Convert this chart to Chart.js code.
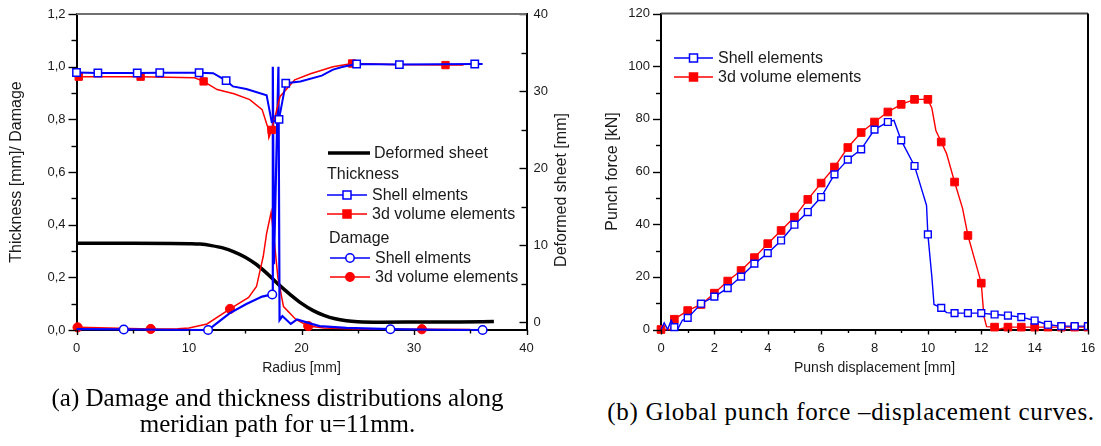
<!DOCTYPE html>
<html>
<head>
<meta charset="utf-8">
<script src="https://cdn.jsdelivr.net/npm/chart.js@4.4.0/dist/chart.umd.min.js"></script>
<style>
  html, body { margin: 0; padding: 0; background: #fff; }
  body { width: 1101px; height: 446px; position: relative; overflow: hidden; }
  .box { position: absolute; top: 0; height: 385px; }
  #boxA { left: 0; width: 580px; }
  #boxB { left: 580px; width: 521px; }
  .cap {
    position: absolute; color: #000; text-align: center; white-space: nowrap;
    font-family: "Liberation Serif", "Times New Roman", serif; font-size: 25px; line-height: 26px;
  }
  #capA { left: 0; top: 385px; width: 555px; }
  #capB { left: 591px; top: 399px; width: 520px; letter-spacing: 0.7px; }
</style>
</head>
<body>
<div class="box" id="boxA"><canvas id="chartA"></canvas></div>
<div class="box" id="boxB"><canvas id="chartB"></canvas></div>
<div class="cap" id="capA">(a) Damage and thickness distributions along<br>meridian path for u=11mm.</div>
<div class="cap" id="capB">(b) Global punch force –displacement curves.</div>
<script>
// ---- (a) distributions along the meridian, radius in mm ----
const thickShellR = [0, 1.9, 5.4, 7.4, 10.9, 12.15, 13.3, 13.9, 15.1, 16.9, 17.35, 18.0, 18.6, 19.9, 21.8, 22.8, 23.7, 24.9, 28.7, 35.4, 36.1];
const thickShell  = [0.978, 0.976, 0.976, 0.977, 0.977, 0.975, 0.947, 0.925, 0.915, 0.891, 0.79, 0.80, 0.937, 0.944, 0.966, 0.989, 1.0, 1.01, 1.008, 1.01, 1.01];

const thickVolR = [0.2, 5.7, 10.5, 11.3, 12.5, 14.0, 15.4, 16.5, 17.0, 17.1, 17.35, 18.1, 19.4, 20.8, 22.8, 24.5, 28.0, 32.8, 34.4];
const thickVol  = [0.962, 0.962, 0.958, 0.944, 0.913, 0.897, 0.875, 0.837, 0.77, 0.73, 0.76, 0.887, 0.95, 0.973, 1.0, 1.012, 1.008, 1.006, 1.006];

const dmgShellR = [0, 4.2, 8, 11.7, 12.6, 13.6, 15.1, 16.5, 17.4, 17.45, 17.55, 17.95, 18.05, 18.3, 19.05, 19.6, 20.75, 21.6, 24, 27.9, 32, 36.1];
const dmgShell  = [0.003, 0.002, 0.001, 0.0, 0.03, 0.063, 0.099, 0.127, 0.135, 1.0, 0.25, 1.0, 0.038, 0.053, 0.023, 0.04, 0.025, 0.015, 0.008, 0.003, 0.001, 0.0];

const dmgVolR = [0.1, 6.6, 9, 10, 11.6, 13.65, 15.3, 16.0, 16.6, 16.9, 17.3, 17.6, 17.9, 18.4, 19.5, 20.6, 22, 25, 30.7, 35];
const dmgVol  = [0.01, 0.004, 0.005, 0.008, 0.023, 0.08, 0.124, 0.165, 0.28, 0.367, 0.447, 0.33, 0.2, 0.089, 0.04, 0.015, 0.008, 0.004, 0.003, 0.002];

const sheetR = [0, 5, 10, 11, 12, 13, 14, 15, 16, 17, 18, 19, 20, 21, 22, 23, 24, 25, 27, 30, 34, 37.1];
const sheet  = [10.25, 10.25, 10.2, 10.15, 9.95, 9.65, 9.15, 8.45, 7.5, 6.25, 4.85, 3.6, 2.45, 1.55, 0.9, 0.45, 0.2, 0.08, 0.02, 0.03, 0.05, 0.1];

// which points carry a symbol (Origin skip factor)
const thickShellMarks = [0, 1, 2, 3, 4, 6, 11, 12, 17, 18, 19];
const thickVolMarks = [0, 1, 3, 10, 15, 17];
const dmgShellMarks = [1, 3, 8, 19, 21];
const dmgVolMarks = [0, 1, 5, 15, 18];

// ---- (b) punch force vs displacement ----
const shellDisp  = [0, 0.12, 0.25, 0.38, 0.5, 0.62, 0.8, 1.0, 1.5, 2.0, 2.5, 3.0, 3.5, 4.0, 4.5, 5.0, 5.5, 6.0, 6.5, 7.0, 7.5, 8.0, 8.5, 8.73, 9.0, 9.5, 9.64, 9.95, 10.0, 10.15, 10.23, 10.5, 10.7, 11.0, 11.5, 12.0, 12.5, 13.0, 13.5, 14.0, 14.5, 15.0, 15.5, 16.0];
const shellForce = [0, 2.5, 0, 3.5, 0.9, 0, 3.5, 4.4, 9.8, 12.5, 15.7, 20.1, 25.0, 29.0, 33.8, 39.8, 44.6, 50.3, 58.9, 64.5, 68.4, 75.9, 78.8, 79.4, 71.8, 62.1, 57.5, 47.1, 36.1, 19.9, 9.5, 8.2, 6.4, 6.2, 6.2, 6.2, 5.7, 5.3, 4.7, 3.4, 1.8, 1.3, 1.3, 1.3];

const volDisp  = [0, 0.35, 0.5, 1.0, 1.5, 2.0, 2.5, 3.0, 3.5, 4.0, 4.5, 5.0, 5.5, 6.0, 6.5, 7.0, 7.5, 8.0, 8.5, 9.0, 9.5, 10.0, 10.15, 10.3, 10.5, 10.7, 11.0, 11.3, 11.5, 11.85, 12.0, 12.1, 12.2, 12.5, 12.6, 13.0, 13.5, 14.0, 14.5, 15.0, 15.5, 16.0];
const volForce = [0, 0, 3.9, 7.2, 9.5, 13.8, 18.4, 22.4, 27.3, 32.6, 37.6, 42.7, 49.4, 55.6, 61.7, 69.1, 74.8, 78.8, 82.6, 85.5, 87.4, 87.4, 84, 75.6, 71.2, 66.8, 56.0, 46, 35.7, 23.1, 17.6, 5, 1.1, 0.9, 0, 0.9, 0.9, 0.9, 0.9, 0.9, 0.9, 0.9];

const F = "'Liberation Sans', Arial, sans-serif";
const BLUE = '#0000ff', RED = '#ff0000', TXT = '#1a1a1a';
Chart.defaults.font.family = F;

const pts = (xs, ys) => xs.map((x, i) => ({ x: x, y: ys[i] }));
const byIdx = (list, r) => c => list.includes(c.dataIndex) ? r : 0;
const onHalf = (r, withZero) => c => {
  const x = c.raw ? c.raw.x : 0;
  return Math.abs(x * 2 - Math.round(x * 2)) < 1e-6 && (withZero || x > 0) ? r : 0;
};
const fixTicks = vals => s => { s.ticks = vals.map(v => ({ value: v })); };
// the tick marks themselves are drawn by the decor plugin; tickLength only keeps the label gap
const noGrid = len => ({ display: false, drawTicks: true, tickLength: len });

// draws tick marks (major + minor), frame lines, legend and extra titles
const decor = {
  id: 'decor',
  afterDraw(chart, args, o) {
    const ctx = chart.ctx, a = chart.chartArea;
    ctx.save();
    ctx.strokeStyle = '#000';
    ctx.lineWidth = 1.4;
    for (const t of o.ticks) {
      const s = chart.scales[t.id];
      let i = 0;
      for (let v = t.from; v <= t.to + 1e-9; v += t.step, i++) {
        const len = i % 2 === 0 ? t.major : t.minor;
        const p = Math.round(s.getPixelForValue(v)) + 0.5;
        ctx.beginPath();
        if (t.side === 'bottom') { ctx.moveTo(p, a.bottom); ctx.lineTo(p, a.bottom + len); }
        else if (t.side === 'left') { ctx.moveTo(a.left, p); ctx.lineTo(a.left - len, p); }
        else { ctx.moveTo(a.right, p); ctx.lineTo(a.right - len, p); }
        ctx.stroke();
      }
    }
    // frame
    ctx.lineWidth = 2;
    ctx.strokeStyle = o.topColor;
    ctx.beginPath(); ctx.moveTo(a.left, a.top); ctx.lineTo(a.right, a.top); ctx.stroke();
    if (o.rightLine) {
      ctx.strokeStyle = '#000';
      ctx.beginPath(); ctx.moveTo(a.right, a.top); ctx.lineTo(a.right, a.bottom); ctx.stroke();
    }
    // legend
    ctx.font = '16px ' + F;
    ctx.textBaseline = 'middle';
    ctx.fillStyle = TXT;
    for (const e of o.legend) {
      if (e.head) { ctx.fillStyle = TXT; ctx.fillText(e.text, e.x, e.y); continue; }
      ctx.strokeStyle = e.color;
      ctx.lineWidth = e.lw;
      ctx.beginPath(); ctx.moveTo(e.x, e.y); ctx.lineTo(e.x2, e.y); ctx.stroke();
      if (e.marker) {
        const mx = (e.x + e.x2) / 2;
        ctx.lineWidth = 1.5;
        ctx.fillStyle = e.fill;
        ctx.beginPath();
        if (e.marker === 'rect') ctx.rect(mx - 4, e.y - 4, 8, 8);
        else ctx.arc(mx, e.y, 4.2, 0, Math.PI * 2);
        ctx.fill(); ctx.stroke();
      }
      ctx.fillStyle = TXT;
      ctx.fillText(e.text, e.tx, e.y + 1);
    }
    // rotated titles drawn here (reading bottom to top)
    for (const t of o.titles || []) {
      ctx.save();
      ctx.translate(t.x, t.y);
      ctx.rotate(-Math.PI / 2);
      ctx.font = '16px ' + F;
      ctx.textAlign = 'center';
      ctx.textBaseline = 'middle';
      ctx.fillStyle = TXT;
      ctx.fillText(t.text, 0, 0);
      ctx.restore();
    }
    ctx.restore();
  }
};

const tickFont = { family: F, size: 13 };

new Chart(document.getElementById('chartA'), {
  type: 'line',
  data: {
    datasets: [
      {
        label: 'Thickness - Shell elments', data: pts(thickShellR, thickShell),
        borderColor: BLUE, borderWidth: 2, pointStyle: 'rect',
        pointRadius: byIdx(thickShellMarks, 5.2), pointBorderColor: BLUE,
        pointBackgroundColor: '#fff', pointBorderWidth: 1.5, yAxisID: 'y'
      },
      {
        label: 'Thickness - 3d volume elements', data: pts(thickVolR, thickVol),
        borderColor: RED, borderWidth: 1.5, pointStyle: 'rect',
        pointRadius: byIdx(thickVolMarks, 5.2), pointBorderColor: RED,
        pointBackgroundColor: RED, pointBorderWidth: 1, yAxisID: 'y'
      },
      {
        label: 'Damage - Shell elments', data: pts(dmgShellR, dmgShell),
        borderColor: BLUE, borderWidth: 2.2, pointStyle: 'circle',
        pointRadius: byIdx(dmgShellMarks, 4.3), pointBorderColor: BLUE,
        pointBackgroundColor: '#fff', pointBorderWidth: 1.5, yAxisID: 'y'
      },
      {
        label: 'Damage - 3d volume elements', data: pts(dmgVolR, dmgVol),
        borderColor: RED, borderWidth: 1.5, pointStyle: 'circle',
        pointRadius: byIdx(dmgVolMarks, 4.6), pointBorderColor: RED,
        pointBackgroundColor: RED, pointBorderWidth: 1, yAxisID: 'y'
      },
      {
        label: 'Deformed sheet', data: pts(sheetR, sheet),
        borderColor: '#000', borderWidth: 3.5, pointRadius: 0,
        cubicInterpolationMode: 'monotone', yAxisID: 'y2'
      }
    ]
  },
  options: {
    responsive: true,
    maintainAspectRatio: false,
    animation: false,
    layout: { padding: { top: 14, right: 0, left: 0, bottom: 0 } },
    datasets: { line: { tension: 0, clip: { left: 8, top: 2, right: 2, bottom: 8 } } },
    scales: {
      x: {
        type: 'linear', min: 0, max: 40,
        afterBuildTicks: fixTicks([0, 10, 20, 30, 40]),
        afterFit: s => { s.height = 55; },
        grid: noGrid(8),
        border: { display: true, color: '#000', width: 2 },
        ticks: { color: TXT, font: tickFont, padding: 3, maxRotation: 0 },
        title: { display: true, text: 'Radius [mm]', color: TXT, font: { family: F, size: 14 }, padding: { top: 0, bottom: 8 } }
      },
      y: {
        position: 'left', min: 0, max: 1.2,
        afterBuildTicks: fixTicks([0, 0.2, 0.4, 0.6, 0.8, 1.0, 1.2]),
        afterFit: s => { s.width = 76.5; },
        grid: noGrid(8),
        border: { display: true, color: '#000', width: 2 },
        ticks: { color: TXT, font: tickFont, padding: 3, callback: v => v.toFixed(1).replace('.', ',') },
        title: { display: true, text: 'Thickness [mm]/ Damage', color: TXT, font: { family: F, size: 16 }, padding: { top: 7, bottom: 0 } }
      },
      y2: {
        position: 'right', min: -1, max: 40,
        afterBuildTicks: fixTicks([0, 10, 20, 30, 40]),
        afterFit: s => { s.width = 53.5; },
        grid: noGrid(4),
        border: { display: true, color: '#000', width: 2 },
        ticks: { color: TXT, font: tickFont, padding: 3 }
      }
    },
    plugins: {
      legend: { display: false },
      tooltip: { enabled: false },
      decor: {
        topColor: '#707070',
        rightLine: false,
        ticks: [
          { id: 'x', side: 'bottom', from: 0, to: 40, step: 5, major: 5, minor: 3.5 },
          { id: 'y', side: 'left', from: 0, to: 1.2, step: 0.1, major: 8, minor: 5 },
          { id: 'y2', side: 'right', from: 0, to: 40, step: 5, major: 7, minor: 5 }
        ],
        legend: [
          { text: 'Deformed sheet', x: 328, x2: 370, tx: 374, y: 153, color: '#000', lw: 3.5 },
          { head: true, text: 'Thickness', x: 327, y: 175 },
          { text: 'Shell elments', x: 327, x2: 367, tx: 372, y: 195, color: BLUE, lw: 1.5, marker: 'rect', fill: '#fff' },
          { text: '3d volume elements', x: 327, x2: 367, tx: 372, y: 214, color: RED, lw: 1.5, marker: 'rect', fill: RED },
          { head: true, text: 'Damage', x: 329, y: 239 },
          { text: 'Shell elments', x: 330, x2: 370, tx: 375, y: 258, color: BLUE, lw: 1.5, marker: 'circle', fill: '#fff' },
          { text: '3d volume elements', x: 330, x2: 370, tx: 375, y: 277, color: RED, lw: 1.5, marker: 'circle', fill: RED }
        ],
        titles: [ { text: 'Deformed sheet [mm]', x: 562, y: 190 } ]
      }
    }
  },
  plugins: [decor]
});

new Chart(document.getElementById('chartB'), {
  type: 'line',
  data: {
    datasets: [
      {
        label: 'Shell elements', data: pts(shellDisp, shellForce),
        borderColor: BLUE, borderWidth: 1.4, pointStyle: 'rect',
        pointRadius: onHalf(4.8, false), pointBorderColor: BLUE,
        pointBackgroundColor: '#fff', pointBorderWidth: 1.4
      },
      {
        label: '3d volume elements', data: pts(volDisp, volForce),
        borderColor: RED, borderWidth: 1.4, pointStyle: 'rect',
        pointRadius: onHalf(5.4, true), pointBorderColor: RED,
        pointBackgroundColor: RED, pointBorderWidth: 1
      }
    ]
  },
  options: {
    responsive: true,
    maintainAspectRatio: false,
    animation: false,
    layout: { padding: { top: 13.5, right: 13, left: 0, bottom: 0 } },
    datasets: { line: { tension: 0, clip: { left: 8, top: 2, right: 0, bottom: 8 } } },
    scales: {
      x: {
        type: 'linear', min: 0, max: 16,
        afterBuildTicks: fixTicks([0, 2, 4, 6, 8, 10, 12, 14, 16]),
        afterFit: s => { s.height = 55.5; },
        grid: noGrid(8),
        border: { display: true, color: '#000', width: 2 },
        ticks: { color: TXT, font: tickFont, padding: 3, maxRotation: 0 },
        title: { display: true, text: 'Punsh displacement [mm]', color: TXT, font: { family: F, size: 14 }, padding: { top: 0, bottom: 8 } }
      },
      y: {
        position: 'left', min: 0, max: 120,
        afterBuildTicks: fixTicks([0, 20, 40, 60, 80, 100, 120]),
        afterFit: s => { s.width = 81; },
        grid: noGrid(8),
        border: { display: true, color: '#000', width: 2 },
        ticks: { color: TXT, font: tickFont, padding: 3 },
        title: { display: true, text: 'Punch force [kN]', color: TXT, font: { family: F, size: 16 }, padding: { top: 23, bottom: 0 } }
      }
    },
    plugins: {
      legend: { display: false },
      tooltip: { enabled: false },
      decor: {
        topColor: '#505050',
        rightLine: true,
        ticks: [
          { id: 'x', side: 'bottom', from: 0, to: 16, step: 1, major: 5, minor: 3.5 },
          { id: 'y', side: 'left', from: 0, to: 120, step: 10, major: 8, minor: 5 }
        ],
        legend: [
          { text: 'Shell elements', x: 94, x2: 133, tx: 138, y: 58, color: BLUE, lw: 1.5, marker: 'rect', fill: '#fff' },
          { text: '3d volume elements', x: 94, x2: 133, tx: 138, y: 77, color: RED, lw: 1.5, marker: 'rect', fill: RED }
        ]
      }
    }
  },
  plugins: [decor]
});
</script>
</body>
</html>
